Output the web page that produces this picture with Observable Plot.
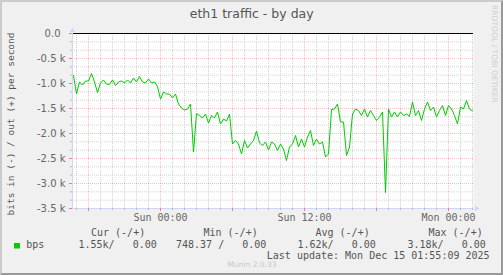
<!DOCTYPE html>
<html><head><meta charset="utf-8">
<script src="https://cdn.jsdelivr.net/npm/d3@7"></script>
<script src="https://cdn.jsdelivr.net/npm/@observablehq/plot@0.6"></script>
<style>
html,body{margin:0;padding:0;background:#f0f0f0;}
#wrap{position:relative;width:503px;height:275px;background:#f0f0f0;overflow:hidden;}
#wrap svg{position:absolute;left:0;top:0;}
#border{position:absolute;left:0;top:0;width:503px;height:275px;box-sizing:border-box;border-style:solid;border-width:2px;border-color:#cbcbcb #999 #999 #cbcbcb;pointer-events:none;}
</style></head><body><div id="wrap"><div id="border"></div></div>
<script>
// ---- data ----
const title = "eth1 traffic - by day";
const yLabel = "bits in (-) / out (+) per second";
const seriesName = "bps";
const seriesColor = "#00cc00";
const startTime = "2025-12-13T16:45:00Z";
const stepMinutes = 15;
// "in" traffic, drawn negative, in kbit/s
const inValues = [
 -0.84,-1.21,-0.97,-1.03,-0.95,-0.95,-0.80,-0.97,-1.18,-0.99,
 -0.93,-1.01,-1.02,-0.93,-1.04,-0.97,-0.95,-0.99,-0.93,-0.99,
 -0.89,-0.97,-0.86,-0.97,-0.99,-0.91,-0.99,-0.97,-1.06,-1.31,
 -1.17,-1.21,-1.21,-1.29,-1.21,-1.41,-1.49,-1.53,-1.51,-1.41,
 -2.37,-1.60,-1.64,-1.69,-1.61,-1.79,-1.64,-1.69,-1.57,-1.81,
 -1.71,-1.75,-1.61,-2.21,-2.14,-2.21,-2.41,-2.14,-2.29,-2.21,
 -2.14,-1.95,-2.19,-2.24,-2.17,-2.33,-2.17,-2.21,-2.34,-2.21,
 -2.31,-2.54,-2.27,-2.21,-2.04,-2.27,-2.11,-2.27,-2.07,-1.94,
 -2.24,-2.11,-2.21,-2.17,-2.47,-2.41,-1.52,-1.51,-1.41,-1.77,
 -1.77,-2.44,-2.27,-1.61,-1.51,-1.54,-1.64,-1.51,-1.67,-1.54,
 -1.64,-1.74,-1.67,-1.57,-3.18,-1.51,-1.67,-1.57,-1.67,-1.57,
 -1.64,-1.61,-1.66,-1.37,-1.64,-1.54,-1.74,-1.51,-1.37,-1.54,
 -1.47,-1.67,-1.54,-1.44,-1.64,-1.44,-1.51,-1.64,-1.81,-1.47,
 -1.51,-1.34,-1.51,-1.55
];
const yTicks = [0,-500,-1000,-1500,-2000,-2500,-3000,-3500];
const xLabelTicks = ["2025-12-14T00:00:00Z","2025-12-14T12:00:00Z","2025-12-15T00:00:00Z"];
const xDomain = ["2025-12-13T16:40:00Z","2025-12-15T02:05:00Z"];
const legendHeaders = ["Cur (-/+)","Min (-/+)","Avg (-/+)","Max (-/+)"];
const legendValues = ["1.55k/   0.00","748.37 /   0.00","1.62k/   0.00","3.18k/   0.00"];
const lastUpdate = "Last update: Mon Dec 15 01:55:09 2025";
const footer = "Munin 2.0.33";
const watermark = "RRDTOOL / TOBI OETIKER";

// ---- build ----
const t0 = new Date(startTime);
const data = inValues.map((v,i)=>({t:new Date(+t0 + i*stepMinutes*60000), v:v*1000}));
const x0 = new Date(xDomain[0]), x1 = new Date(xDomain[1]);
const hours = d3.utcHour.range(x0, x1);
const hMajor = hours.filter(d=>d.getUTCHours()%6===0);
const hMinor = hours.filter(d=>d.getUTCHours()%6!==0);
const yMinor = d3.range(1,21).filter(k=>k%3!==0).map(k=>-k*500/3);
const yMajorInner = yTicks.filter(v=>v!==0 && v!==-3500);
const AX = "#cfd6f8";
const GRID = "#d2d2d2";
const MGRID = "rgba(255,0,0,0.25)";

const chart = Plot.plot({
  width:503, height:275,
  marginLeft:72, marginRight:30, marginTop:33, marginBottom:67,
  x:{type:"utc", domain:[x0,x1], label:null},
  y:{domain:[-3500,0], label:null},
  style:{background:"transparent", fontFamily:"DejaVu Sans", color:"#666", overflow:"visible"},
  marks:[
    Plot.frame({fill:"#ffffff"}),
    Plot.ruleY(yMinor,{stroke:GRID, strokeDasharray:"1,1"}),
    Plot.ruleX(hMinor,{stroke:GRID, strokeDasharray:"1,1"}),
    Plot.ruleY(yMajorInner,{stroke:MGRID, strokeDasharray:"1,1"}),
    Plot.ruleX(hMajor,{stroke:MGRID, strokeDasharray:"1,1"}),
    Plot.line(data,{x:"t", y:"v", stroke:seriesColor, strokeWidth:1}),
    Plot.ruleY([0],{stroke:"#000"}),
    Plot.ruleY([-3500],{stroke:AX}),
    Plot.ruleX([x0],{stroke:AX}),
    Plot.dot([x1],{x:d=>d, y:()=>-3500, symbol:"triangle", r:2, rotate:90, fill:AX, stroke:null, dx:3}),
    Plot.dot([x0],{x:d=>d, y:()=>0, symbol:"triangle", r:2, fill:AX, stroke:null, dy:-3}),
    Plot.axisX(hMinor,{tickSize:2, tickFormat:()=>"", stroke:"#bbb", label:null}),
    Plot.axisX(hMajor,{tickSize:3, tickFormat:()=>"", stroke:"#f08080", label:null}),
    Plot.axisY(yMinor,{tickSize:2, tickFormat:()=>"", stroke:"#bbb", label:null}),
    Plot.axisY(yTicks,{tickSize:3, tickPadding:4, fontSize:10, stroke:"#f08080", fill:"#666", label:null,
      tickFormat:v=> v===0 ? "0.0\u2002" : (v/1000).toFixed(1)+" k"}),
    Plot.axisX(xLabelTicks.map(s=>new Date(s)),{tickSize:0, tickPadding:5, fontSize:10, fill:"#666", label:null,
      fontFamily:"DejaVu Sans Mono", tickFormat:d3.utcFormat("%a %H:%M")})
  ]
});
document.getElementById("wrap").insertBefore(chart, document.getElementById("border"));

// ---- titles and legend ----
const ov = d3.select("#wrap").insert("svg","#border").attr("width",503).attr("height",275);
function txt(s,x,y,o={}){
  const e = ov.append("text").attr("x",x).attr("y",y).text(s)
    .attr("font-family",o.font||"DejaVu Sans Mono").attr("font-size",o.size||10)
    .attr("fill",o.fill||"#555").attr("text-anchor",o.anchor||"start")
    .attr("xml:space","preserve").style("white-space","pre");
  if(o.rotate!=null) e.attr("transform",`rotate(${o.rotate},${x},${y})`);
  return e;
}
txt(title,251.7,17.7,{font:"DejaVu Sans",size:12.5,anchor:"middle"});
txt(yLabel,13.9,124,{size:9.5,anchor:"middle",rotate:-90});
txt(watermark,491.5,5,{font:"DejaVu Sans",size:7.6,fill:"#cfcfcf",rotate:90});
const hdrX=[91,203.5,315.5,428.5], valX=[78.5,176,297.5,407.5];
legendHeaders.forEach((h,i)=>txt(h,hdrX[i],236));
legendValues.forEach((v,i)=>txt(v,valX[i],248.3));
ov.append("rect").attr("x",14).attr("y",243).attr("width",6).attr("height",5.5).attr("fill",seriesColor);
txt(seriesName,26.2,248.3);
txt(lastUpdate,266.8,259);
txt(footer,252,266.5,{font:"DejaVu Sans",size:7.5,fill:"#c8c8c8",anchor:"middle"});
</script></body></html>
